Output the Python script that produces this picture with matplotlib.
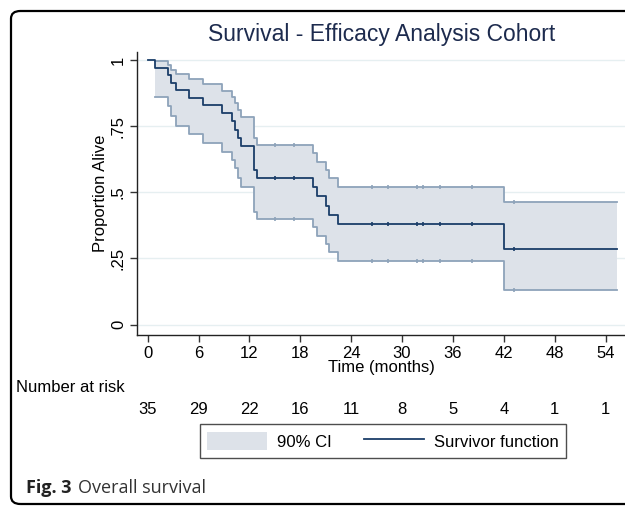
import numpy as np
import matplotlib
matplotlib.use("Agg")
import matplotlib.pyplot as plt
from matplotlib.patches import FancyBboxPatch, Patch
from matplotlib.lines import Line2D

# ---- data ----
step_times = [0, 0.86, 2.43, 2.7, 3.34, 4.9, 6.57, 8.8, 10.0, 10.3, 10.6, 11.0,
              12.5, 12.9, 19.55, 20.0, 21.05, 21.4, 22.4, 42.0]
survival = [1.0, 0.971, 0.943, 0.914, 0.886, 0.857, 0.829, 0.798, 0.768, 0.737,
            0.705, 0.674, 0.584, 0.553, 0.519, 0.485, 0.450, 0.416, 0.379, 0.285]
ci_upper = [1.0, 0.996, 0.981, 0.962, 0.947, 0.927, 0.908, 0.884, 0.861, 0.836,
            0.811, 0.786, 0.704, 0.679, 0.650, 0.616, 0.585, 0.554, 0.520, 0.462]
ci_lower = [1.0, 0.861, 0.826, 0.790, 0.752, 0.719, 0.685, 0.654, 0.622, 0.591,
            0.555, 0.521, 0.427, 0.398, 0.370, 0.336, 0.303, 0.273, 0.242, 0.130]
end_time = 55.4
censor_times = [15.0, 17.2, 26.4, 28.3, 31.8, 32.5, 34.5, 38.3, 43.2]
risk_times = [0, 6, 12, 18, 24, 30, 36, 42, 48, 54]
at_risk = [35, 29, 22, 16, 11, 8, 5, 4, 1, 1]
x_ticks = [0, 6, 12, 18, 24, 30, 36, 42, 48, 54]
y_ticks = [0, 0.25, 0.5, 0.75, 1]
y_ticklabels = ["0", ".25", ".5", ".75", "1"]

W, H = 625, 509
plt.rcParams['font.family'] = ['Liberation Sans', 'DejaVu Sans']
fig = plt.figure(figsize=(W / 100, H / 100), dpi=100)

line_col = '#1b3e69'
band_col = '#dde2e9'
edge_col = '#8ea3ba'
grid_col = '#e6eff1'
FS = 12

def fx(px):
    return px / W

def fy(py):
    return 1 - py / H

ax_left, ax_right, ax_top, ax_bot = 137, 625, 52, 335
ax = fig.add_axes([fx(ax_left), fy(ax_bot), fx(ax_right) - fx(ax_left), fy(ax_top) - fy(ax_bot)])
ax.set_xlim(-1.26, 56.3)
ax.set_ylim(-0.039, 1.03)

# step data extended to the end of follow-up
t_full = np.array(step_times + [end_time])
s_full = np.array(survival + [survival[-1]])
ci_t = np.array(step_times[1:] + [end_time])
up = np.array(ci_upper[1:] + [ci_upper[-1]])
lo = np.array(ci_lower[1:] + [ci_lower[-1]])

ax.fill_between(ci_t, lo, up, step='post', color=band_col, lw=0, zorder=1)
ax.step(ci_t, up, where='post', color=edge_col, lw=1.3, zorder=2)
ax.step(ci_t, lo, where='post', color=edge_col, lw=1.3, zorder=2)
ax.step(t_full, s_full, where='post', color=line_col, lw=1.3, zorder=3)

# censor marks
idx = np.searchsorted(np.array(step_times), censor_times, side='right') - 1
ax.plot(censor_times, np.array(survival)[idx], ls='none', marker='|', ms=2.5,
        mew=1.2, color=line_col, zorder=4)
ax.plot(censor_times, np.array(ci_upper)[idx], ls='none', marker='|', ms=2.5,
        mew=1.2, color=edge_col, zorder=2)
ax.plot(censor_times, np.array(ci_lower)[idx], ls='none', marker='|', ms=2.5,
        mew=1.2, color=edge_col, zorder=2)

# axes styling
for s in ['top', 'right']:
    ax.spines[s].set_visible(False)
for s in ['left', 'bottom']:
    ax.spines[s].set_color('#222222')
    ax.spines[s].set_linewidth(1.0)
ax.set_yticks(y_ticks)
ax.set_yticklabels(y_ticklabels, rotation=90, va='center', fontsize=FS)
ax.set_xticks(x_ticks)
ax.set_xticklabels([str(v) for v in x_ticks], fontsize=FS)
ax.tick_params(axis='both', direction='out', length=5, width=1.0, color='#333333', pad=3)
ax.yaxis.grid(True, color=grid_col, lw=1.0, zorder=0)
ax.set_axisbelow(True)
ax.set_ylabel('Proportion Alive', fontsize=FS, labelpad=2)
ax.set_xlabel('Time (months)', fontsize=FS, labelpad=-1)

fig.text(fx(382), fy(35), 'Survival - Efficacy Analysis Cohort', ha='center', va='center',
         fontsize=16.5, color='#1d2b4e')

# number at risk
fig.text(fx(16), fy(388), 'Number at risk', ha='left', va='center', fontsize=FS)
for t, n in zip(risk_times, at_risk):
    xd = ax.transData.transform((t, 0))[0]
    fig.text(xd / fig.dpi / fig.get_figwidth(), fy(410), str(n), ha='center', va='center',
             fontsize=FS)

handles = [Patch(facecolor=band_col, edgecolor='none'),
           Line2D([], [], color=line_col, lw=1.3)]
leg = fig.legend(handles, ['90% CI', 'Survivor function'], ncol=2, loc='center',
                 bbox_to_anchor=(fx(383), fy(441)), fontsize=FS, frameon=True,
                 fancybox=False, handlelength=3.6, handleheight=1.3, columnspacing=1.9,
                 handletextpad=0.6, borderpad=0.45, borderaxespad=0)
leg.get_frame().set_edgecolor('#222222')
leg.get_frame().set_linewidth(1.0)

# caption
fig.text(fx(26), fy(488), 'Fig. 3', ha='left', va='center', fontsize=13,
         fontweight='bold', family=['Open Sans', 'DejaVu Sans'], color='#222222')
fig.text(fx(78), fy(488), 'Overall survival', ha='left', va='center', fontsize=13,
         family=['Open Sans', 'DejaVu Sans'], color='#333333')

# rounded outer frame
frame = FancyBboxPatch((fx(11), fy(504)), fx(680) - fx(11), fy(11) - fy(504),
                       boxstyle='round,pad=0,rounding_size=0.015',
                       transform=fig.transFigure, fill=False, ec='black', lw=1.6,
                       clip_on=False)
fig.patches.append(frame)

fig.savefig('out.png', dpi=100)
